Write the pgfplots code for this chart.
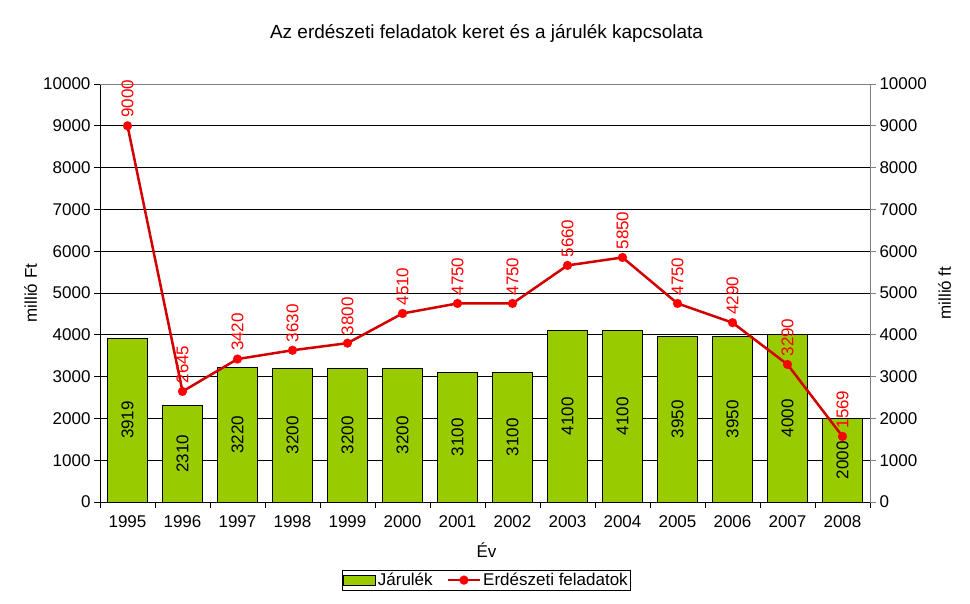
\documentclass[border=0pt]{standalone}
\usepackage{fontspec}
\setmainfont{Liberation Sans}
\usepackage{pgfplots}
\usepackage{pgfplotstable}
\pgfplotsset{compat=1.18}
\definecolor{barg}{RGB}{153,204,0}
\definecolor{linered}{RGB}{210,0,0}

\pgfplotstableread{
x v e
0 3919 9000
1 2310 2645
2 3220 3420
3 3200 3630
4 3200 3800
5 3200 4510
6 3100 4750
7 3100 4750
8 4100 5660
9 4100 5850
10 3950 4750
11 3950 4290
12 4000 3290
13 2000 1569
}\data

\begin{document}
\begin{tikzpicture}
\pgfplotsset{every axis/.append style={
  scale only axis, width=770pt, height=418pt,
  xmin=-0.5, xmax=13.5, ymin=0, ymax=10000,
  font=\fontsize{17}{19}\selectfont,
  /pgf/number format/assume math mode=true,
  /pgf/number format/1000 sep={},
  scaled ticks=false,
  tick align=outside,
}}
\begin{axis}[name=main,
  axis y line*=left, axis x line*=bottom,
  xtick={0,...,13},
  xticklabels={1995,1996,1997,1998,1999,2000,2001,2002,2003,2004,2005,2006,2007,2008},
  xticklabel style={yshift=-4pt},
  major x tick style={draw=none},
  minor xtick={-0.5,0.5,...,13.5},
  minor tick length=6pt, major tick length=6pt,
  ytick={0,1000,...,9000},
  extra y ticks={10000}, extra y tick style={grid=none},
  ymajorgrids, grid style={black, line width=0.8pt},
  xlabel={Év}, xlabel style={at={(axis description cs:0.502,-0.115)}, anchor=center},
  ylabel={millió Ft}, ylabel style={at={(axis description cs:-0.09,0.5)}, anchor=center},
  title={Az erdészeti feladatok keret és a járulék kapcsolata},
  title style={at={(axis description cs:0.502,1.106)}, anchor=center, font=\fontsize{19}{21}\selectfont},
  axis line style={black, line width=0.8pt},
  every tick/.style={black, line width=0.8pt},
]
\addplot[ybar, bar width=40pt, fill=barg, draw=black, line width=0.8pt] table[x=x,y=v]{\data};
\addplot[draw=none, mark=none, nodes near coords, point meta=explicit,
  nodes near coords style={rotate=90, anchor=center, black}]
  table[x=x, y expr=\thisrow{v}/2, meta=v]{\data};
\end{axis}
\draw[gray, line width=0.8pt] (main.north west) -- (main.north east);
\begin{axis}[
  axis y line*=right, axis x line=none,
  ytick={0,1000,...,10000},
  y axis line style={gray, line width=0.8pt},
  every tick/.style={gray, line width=0.8pt},
  major tick length=6pt,
  ylabel={millió ft}, ylabel style={at={(axis description cs:1.097,0.5)}, anchor=center},
  legend style={at={(axis description cs:0.502,-0.187)}, anchor=center, legend columns=2,
    draw=black, line width=0.8pt, font=\fontsize{17}{19}\selectfont, inner sep=1pt,
    /tikz/every even column/.append style={column sep=12pt}},
  legend image code/.code={\draw[mark repeat=2, mark phase=2, #1] plot coordinates {(0pt,0pt) (16pt,0pt) (32pt,0pt)};},
]
\addlegendimage{legend image code/.code={\draw[fill=barg, draw=black, line width=0.6pt] (0pt,-5pt) rectangle (32pt,5pt);}}
\addlegendentry{Járulék}
\addplot[linered, line width=2.5pt, mark=*, mark size=4.5pt, mark options={fill=red, draw=red, line width=0.1pt},
  nodes near coords, point meta=explicit,
  nodes near coords style={rotate=90, anchor=west, red, inner xsep=8pt, font=\fontsize{17}{19}\selectfont}]
  table[x=x, y=e, meta=e]{\data};
\addlegendentry{Erdészeti feladatok}
\end{axis}
\path (main.south west) ++(-100pt,-102pt) rectangle ++(970pt,604pt);
\end{tikzpicture}
\end{document}
